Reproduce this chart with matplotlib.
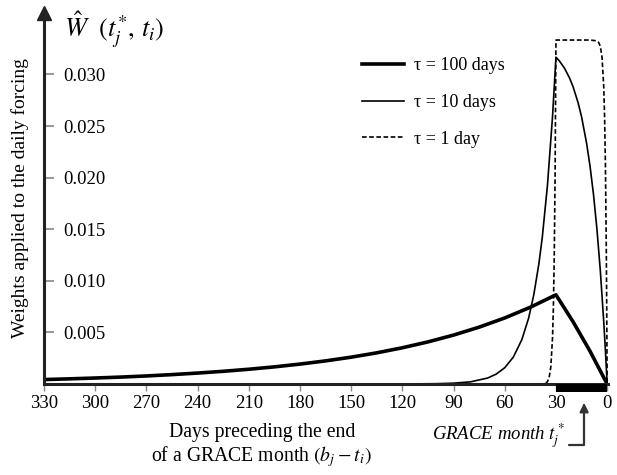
import matplotlib
matplotlib.use('Agg')
import matplotlib.pyplot as plt
from matplotlib.patches import Rectangle

plt.rcParams['font.family'] = ['Liberation Serif', 'DejaVu Serif']
plt.rcParams['mathtext.fontset'] = 'stix'

# ---- data ----
days_100 = [330, 315, 300, 285, 270, 255, 240, 225, 210, 195, 180, 165, 150, 135,
            120, 105, 90, 75, 60, 45, 30, 20, 10, 0]
w_100 = [0.00043, 0.00050, 0.00058, 0.00067, 0.00078, 0.00091, 0.00106, 0.00123,
         0.00143, 0.00166, 0.00193, 0.00224, 0.00260, 0.00302, 0.00351, 0.00408,
         0.00474, 0.00551, 0.00640, 0.00744, 0.00864, 0.00604, 0.00317, 0.0]

days_10 = [330, 120, 100, 90, 80, 70, 65, 60, 55, 50, 46, 43, 40, 38, 35, 32, 30,
           28, 25, 22, 20, 17, 15, 12, 10, 8, 6, 4, 2, 1, 0]
w_10 = [0.0, 0.0, 0.00003, 0.00008, 0.00021, 0.00058, 0.00096, 0.00158, 0.00260,
        0.00429, 0.00639, 0.00863, 0.01165, 0.01423, 0.01921, 0.02593, 0.03167,
        0.03131, 0.03060, 0.02964, 0.02882, 0.02724, 0.02590, 0.02329, 0.02107,
        0.01836, 0.01504, 0.01099, 0.00604, 0.00317, 0.0]

days_1 = [330, 40, 38, 36, 35, 34, 33, 32, 31.5, 31, 30.5, 30, 20, 10, 6, 5, 4, 3,
          2, 1.5, 1, 0.5, 0.25, 0]
w_1 = [0.0, 0.0, 0.00001, 0.00008, 0.00022, 0.00061, 0.00166, 0.00451, 0.00744,
       0.01226, 0.02022, 0.03333, 0.03333, 0.03333, 0.03325, 0.03311, 0.03272,
       0.03167, 0.02882, 0.02590, 0.02107, 0.01312, 0.00737, 0.0]

x_ticks = [330, 300, 270, 240, 210, 180, 150, 120, 90, 60, 30, 0]
y_ticks = [0.005, 0.010, 0.015, 0.020, 0.025, 0.030]
y_tick_labels = ['0.005', '0.010', '0.015', '0.020', '0.025', '0.030']
month_start, month_end = 30, 0

# ---- figure ----
fig = plt.figure(figsize=(6.17, 4.75), dpi=100)
ax = fig.add_axes([44 / 617, 1 - 384 / 475, 564 / 617, 371 / 475])

ax.plot(days_100, w_100, color='black', lw=2.6, label='τ = 100 days')
ax.plot(days_10, w_10, color='black', lw=1.2, label='τ = 10 days')
ax.plot(days_1, w_1, color='black', lw=1.2, ls=(0, (2.8, 1.5)), label='τ = 1 day')

ax.set_xlim(330, -0.5)
ax.set_ylim(0, 0.03595)

for s in ['top', 'right']:
    ax.spines[s].set_visible(False)
for s in ['left', 'bottom']:
    ax.spines[s].set_linewidth(2.2)
    ax.spines[s].set_color('#222222')

# arrow head on y axis
ax.plot([0], [1.0], marker='^', ms=9.5, color='#222222', transform=ax.transAxes,
        clip_on=False)

ax.set_xticks(x_ticks)
ax.set_xticklabels([str(v) for v in x_ticks])
ax.tick_params(axis='x', direction='out', length=5, width=1, color='#888888',
               labelsize=13.5, pad=3)
ax.set_yticks(y_ticks)
ax.set_yticklabels(y_tick_labels)
ax.tick_params(axis='y', direction='in', length=7, width=1.2, color='#888888',
               labelsize=13.5, pad=-14)
for lab in ax.get_yticklabels():
    lab.set_horizontalalignment('left')

# GRACE month bar
ax.add_patch(Rectangle((month_end, -0.022), month_start - month_end, 0.022,
                       transform=ax.get_xaxis_transform(), clip_on=False,
                       facecolor='black', edgecolor='none', zorder=5))

ax.set_ylabel('Weights applied to the daily forcing', fontsize=14)
ax.yaxis.set_label_coords(-0.026, 0.5)
ax.set_xlabel('Days preceding the end\nof a GRACE month $(b_j - t_i)$', fontsize=14.2,
              linespacing=1.1)
ax.xaxis.set_label_coords(0.386, -0.105)

fig.text(64 / 617, 1 - 30 / 475, r'$\hat{W}\ \ (t_j^{*},\, t_i)$', fontsize=19,
         va='center', ha='left')

xt = ax.get_xaxis_transform()
ax.text(24.8, -0.138, 'GRACE month $t_j^*$', transform=xt, ha='right', va='center',
        fontsize=13.5, style='italic')
ax.annotate('', xy=(13.5, -0.051), xycoords=xt, xytext=(22.3, -0.164), textcoords=xt,
            arrowprops=dict(arrowstyle='-|>,head_length=0.5,head_width=0.25',
                            connectionstyle='angle,angleA=0,angleB=90,rad=0',
                            lw=1.6, color='#333333', shrinkA=0, shrinkB=0))

ax.legend(loc='upper left', bbox_to_anchor=(362 / 617, 1 - 57 / 475),
          bbox_transform=fig.transFigure, frameon=False, handlelength=2.3,
          handletextpad=0.6, labelspacing=1.1, borderpad=0, borderaxespad=0,
          fontsize=13)

fig.savefig('out.png', dpi=100)
